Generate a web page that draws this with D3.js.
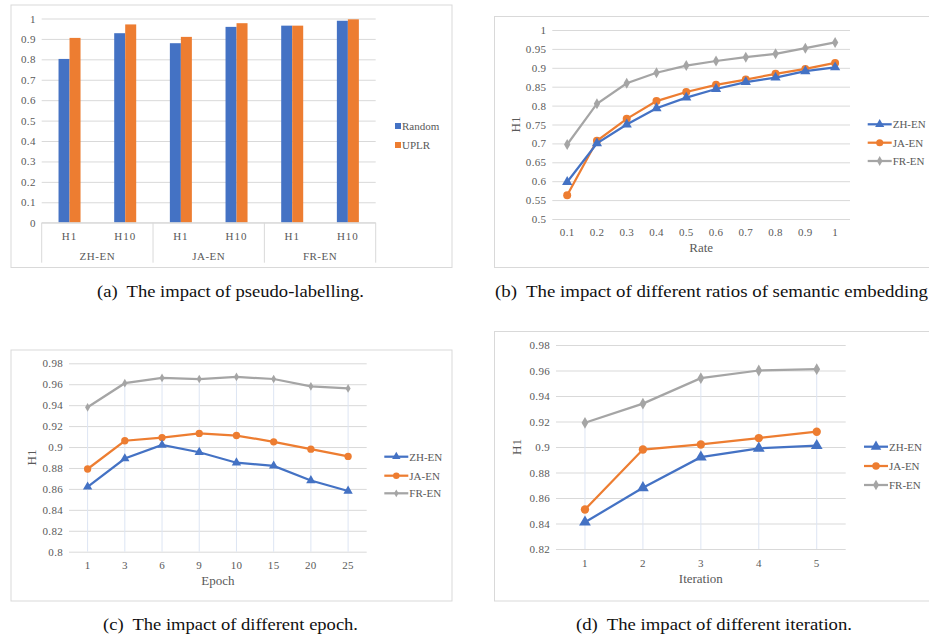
<!DOCTYPE html>
<html>
<head>
<meta charset="utf-8">
<script src="https://cdn.jsdelivr.net/npm/d3@7"></script>
<style>
  body { margin: 0; background: #fff; }
  text { font-family: "Liberation Serif", "Times New Roman", serif; }
</style>
</head>
<body>
<div id="chart-area"></div>
<script>
// ---- Datos ----
const pairs = ["ZH-EN", "JA-EN", "FR-EN"];
const metrics = ["H1", "H10"];
const barSeries = ["Random", "UPLR"];
const randomVals = [0.802, 0.928, 0.879, 0.959, 0.965, 0.989];
const uplrVals = [0.905, 0.971, 0.910, 0.977, 0.965, 0.996];
const barTicks = [0, 0.1, 0.2, 0.3, 0.4, 0.5, 0.6, 0.7, 0.8, 0.9, 1];

const lineSeries = ["ZH-EN", "JA-EN", "FR-EN"];

const rates = ["0.1", "0.2", "0.3", "0.4", "0.5", "0.6", "0.7", "0.8", "0.9", "1"];
const rateZH = [0.598, 0.700, 0.750, 0.793, 0.821, 0.844, 0.862, 0.874, 0.891, 0.901];
const rateJA = [0.563, 0.707, 0.765, 0.812, 0.836, 0.855, 0.869, 0.884, 0.897, 0.913];
const rateFR = [0.697, 0.805, 0.859, 0.887, 0.906, 0.918, 0.928, 0.937, 0.952, 0.967];
const rateTicks = [0.5, 0.55, 0.6, 0.65, 0.7, 0.75, 0.8, 0.85, 0.9, 0.95, 1];

const epochs = ["1", "3", "6", "9", "10", "15", "20", "25"];
const epochZH = [0.862, 0.889, 0.902, 0.895, 0.885, 0.882, 0.868, 0.858];
const epochJA = [0.879, 0.906, 0.909, 0.913, 0.911, 0.905, 0.898, 0.891];
const epochFR = [0.938, 0.961, 0.966, 0.965, 0.967, 0.965, 0.958, 0.956];
const epochTicks = [0.8, 0.82, 0.84, 0.86, 0.88, 0.9, 0.92, 0.94, 0.96, 0.98];

const iterations = ["1", "2", "3", "4", "5"];
const iterZH = [0.841, 0.868, 0.892, 0.899, 0.901];
const iterJA = [0.851, 0.898, 0.902, 0.907, 0.912];
const iterFR = [0.919, 0.934, 0.954, 0.960, 0.961];
const iterTicks = [0.82, 0.84, 0.86, 0.88, 0.9, 0.92, 0.94, 0.96, 0.98];

const captions = [
    "(a)  The impact of pseudo-labelling.",
    "(b)  The impact of different ratios of semantic embedding",
    "(c)  The impact of different epoch.",
    "(d)  The impact of different iteration."
];

// ---- Estilos ----
const colors = ["#4472C4", "#ED7D31", "#A5A5A5"];
const shapes = [d3.symbolTriangle, d3.symbolCircle, d3.symbolDiamond];
const gridColor = "#d9d9d9";
const labelColor = "#595959";

const svg = d3.select("#chart-area")
    .append("svg")
    .attr("width", 929)
    .attr("height", 638);

// Marcos de cada panel
const frames = [
    [11, 5, 441, 262.5],
    [494.5, 16.5, 450, 251],
    [11, 350, 441, 251],
    [494.5, 331.5, 450, 269.5]
];
svg.selectAll("rect.frame")
    .data(frames)
    .enter()
    .append("rect")
    .attr("class", "frame")
    .attr("x", d => d[0])
    .attr("y", d => d[1])
    .attr("width", d => d[2])
    .attr("height", d => d[3])
    .attr("fill", "none")
    .attr("stroke", gridColor);

// Eje Y con rejilla
function drawYAxis(g, y, ticks, left, right, fontSize) {
    const axis = d3.axisLeft(y)
        .tickValues(ticks)
        .tickSize(-(right - left))
        .tickPadding(6)
        .tickFormat(d => String(d));
    const ga = g.append("g")
        .attr("transform", `translate(${left}, 0)`)
        .call(axis);
    ga.select(".domain").remove();
    ga.selectAll("line").attr("stroke", gridColor);
    ga.selectAll("text")
        .attr("fill", labelColor)
        .attr("font-size", fontSize + "px")
        .attr("font-family", "Liberation Serif")
        .attr("letter-spacing", "0.3px");
}

// ---- (a) Barras ----
(function () {
    const left = 41.7, right = 375.7, top = 18.5, bottom = 222.7;
    const g = svg.append("g");
    const keys = [];
    pairs.forEach(p => metrics.forEach(m => keys.push(p + "|" + m)));

    const x0 = d3.scaleBand().domain(keys).range([left, right]);
    const x1 = d3.scaleBand().domain(barSeries).range([0, x0.bandwidth()]).paddingOuter(1.53);
    const y = d3.scaleLinear().domain([0, 1]).range([bottom, top]);

    drawYAxis(g, y, barTicks, left, right, 11);

    const rows = keys.map((k, i) => ({ key: k, Random: randomVals[i], UPLR: uplrVals[i] }));
    barSeries.forEach((s, si) => {
        g.selectAll("rect.bar-" + s)
            .data(rows)
            .enter()
            .append("rect")
            .attr("x", d => x0(d.key) + x1(s))
            .attr("y", d => y(d[s]))
            .attr("width", x1.bandwidth())
            .attr("height", d => y(0) - y(d[s]))
            .attr("fill", colors[si]);
    });

    // Eje de categorías en dos niveles
    g.append("line")
        .attr("x1", left).attr("x2", right)
        .attr("y1", bottom).attr("y2", bottom)
        .attr("stroke", gridColor);
    const bounds = pairs.map(p => x0(p + "|H1")).concat([right]);
    g.selectAll("line.sep")
        .data(bounds)
        .enter()
        .append("line")
        .attr("x1", d => d).attr("x2", d => d)
        .attr("y1", bottom).attr("y2", 262.7)
        .attr("stroke", gridColor);
    g.selectAll("text.metric")
        .data(keys)
        .enter()
        .append("text")
        .attr("x", d => x0(d) + x0.bandwidth() / 2)
        .attr("y", 236)
        .attr("dy", "0.35em")
        .attr("text-anchor", "middle")
        .attr("font-size", "11px")
        .attr("letter-spacing", "1px")
        .attr("fill", labelColor)
        .text(d => d.split("|")[1]);
    g.selectAll("text.pair")
        .data(pairs)
        .enter()
        .append("text")
        .attr("x", d => x0(d + "|H1") + x0.bandwidth())
        .attr("y", 256)
        .attr("dy", "0.35em")
        .attr("text-anchor", "middle")
        .attr("font-size", "11px")
        .attr("letter-spacing", "0.5px")
        .attr("fill", labelColor)
        .text(d => d);

    // Leyenda
    barSeries.forEach((s, i) => {
        const ly = 126 + i * 19;
        g.append("rect")
            .attr("x", 395).attr("y", ly - 3)
            .attr("width", 6).attr("height", 6)
            .attr("fill", colors[i]);
        g.append("text")
            .attr("x", 402).attr("y", ly)
            .attr("dy", "0.35em")
            .attr("font-size", "11px")
            .attr("fill", labelColor)
            .text(s);
    });
})();

// ---- Gráficos de líneas ----
function drawLineChart(cfg) {
    const g = svg.append("g");
    const x = d3.scalePoint().domain(cfg.cats).range([cfg.left, cfg.right]).padding(0.5);
    const y = d3.scaleLinear().domain(cfg.domain).range([cfg.bottom, cfg.top]);

    drawYAxis(g, y, cfg.ticks, cfg.left, cfg.right, 11);

    // Líneas de caída
    if (cfg.drop) {
        g.selectAll("line.drop")
            .data(cfg.cats)
            .enter()
            .append("line")
            .attr("x1", d => x(d)).attr("x2", d => x(d))
            .attr("y1", (d, i) => y(d3.max(cfg.values, v => v[i])))
            .attr("y2", cfg.bottom)
            .attr("stroke", "#dde5f3")
            .attr("stroke-width", 1);
    }

    const line = d3.line()
        .x((d, i) => x(cfg.cats[i]))
        .y(d => y(d));

    // Dibujar en orden FR, JA, ZH
    [2, 1, 0].forEach(si => {
        const vals = cfg.values[si];
        g.append("path")
            .datum(vals)
            .attr("d", line)
            .attr("fill", "none")
            .attr("stroke", colors[si])
            .attr("stroke-width", 2.25);
        g.selectAll("path.m" + si)
            .data(vals)
            .enter()
            .append("path")
            .attr("transform", (d, i) => `translate(${x(cfg.cats[i])}, ${y(d)})`)
            .attr("d", d3.symbol().type(shapes[si]).size(cfg.sizes[si]))
            .attr("fill", colors[si]);
    });

    // Etiquetas del eje X
    g.selectAll("text.xl")
        .data(cfg.cats)
        .enter()
        .append("text")
        .attr("x", d => x(d))
        .attr("y", cfg.xLabelY)
        .attr("dy", "0.35em")
        .attr("text-anchor", "middle")
        .attr("font-size", "11px")
        .attr("letter-spacing", "0.3px")
        .attr("fill", labelColor)
        .text(d => d);

    g.append("text")
        .attr("x", (cfg.left + cfg.right) / 2)
        .attr("y", cfg.xTitleY)
        .attr("dy", "0.35em")
        .attr("text-anchor", "middle")
        .attr("font-size", "13px")
        .attr("fill", labelColor)
        .text(cfg.xTitle);

    g.append("text")
        .attr("transform", `translate(${cfg.yTitleX}, ${(cfg.top + cfg.bottom) / 2}) rotate(-90)`)
        .attr("dy", "0.35em")
        .attr("text-anchor", "middle")
        .attr("font-size", "13px")
        .attr("fill", labelColor)
        .text("H1");

    // Leyenda
    lineSeries.forEach((s, i) => {
        const ly = cfg.legendY[i];
        const lx = cfg.legendX;
        g.append("line")
            .attr("x1", lx).attr("x2", lx + 24)
            .attr("y1", ly).attr("y2", ly)
            .attr("stroke", colors[i])
            .attr("stroke-width", 2.25);
        g.append("path")
            .attr("transform", `translate(${lx + 12}, ${ly})`)
            .attr("d", d3.symbol().type(shapes[i]).size(cfg.sizes[i] * 0.8))
            .attr("fill", colors[i]);
        g.append("text")
            .attr("x", lx + 25)
            .attr("y", ly)
            .attr("dy", "0.35em")
            .attr("font-size", "11px")
            .attr("fill", labelColor)
            .text(s);
    });
}

// (b) Rate
drawLineChart({
    cats: rates, values: [rateZH, rateJA, rateFR],
    domain: [0.5, 1], ticks: rateTicks,
    left: 552.3, right: 850, top: 30, bottom: 219,
    xLabelY: 231.7, xTitleY: 247.3, xTitle: "Rate", yTitleX: 515,
    legendX: 867.7, legendY: [124.3, 142.7, 161],
    sizes: [45, 50, 35], drop: false
});

// (c) Epoch
drawLineChart({
    cats: epochs, values: [epochZH, epochJA, epochFR],
    domain: [0.8, 0.98], ticks: epochTicks,
    left: 69, right: 366.7, top: 363.3, bottom: 551.7,
    xLabelY: 565, xTitleY: 580, xTitle: "Epoch", yTitleX: 31.7,
    legendX: 384.3, legendY: [456.7, 475.7, 493.3],
    sizes: [38, 42, 22], drop: true
});

// (d) Iteration
drawLineChart({
    cats: iterations, values: [iterZH, iterJA, iterFR],
    domain: [0.82, 0.98], ticks: iterTicks,
    left: 556, right: 845.7, top: 345, bottom: 549,
    xLabelY: 562.7, xTitleY: 578.7, xTitle: "Iteration", yTitleX: 516.7,
    legendX: 864, legendY: [446.7, 466, 485],
    sizes: [60, 55, 40], drop: true
});

// ---- Pies de figura ----
const capPos = [[97, 297, 267], [495, 297, 433], [103, 630, 255], [576, 630, 276]];
svg.selectAll("text.caption")
    .data(captions)
    .enter()
    .append("text")
    .attr("x", (d, i) => capPos[i][0])
    .attr("y", (d, i) => capPos[i][1])
    .attr("textLength", (d, i) => capPos[i][2])
    .attr("lengthAdjust", "spacingAndGlyphs")
    .attr("font-size", "16px")
    .attr("fill", "#111")
    .attr("xml:space", "preserve")
    .style("white-space", "pre")
    .text(d => d);
</script>
</body>
</html>
